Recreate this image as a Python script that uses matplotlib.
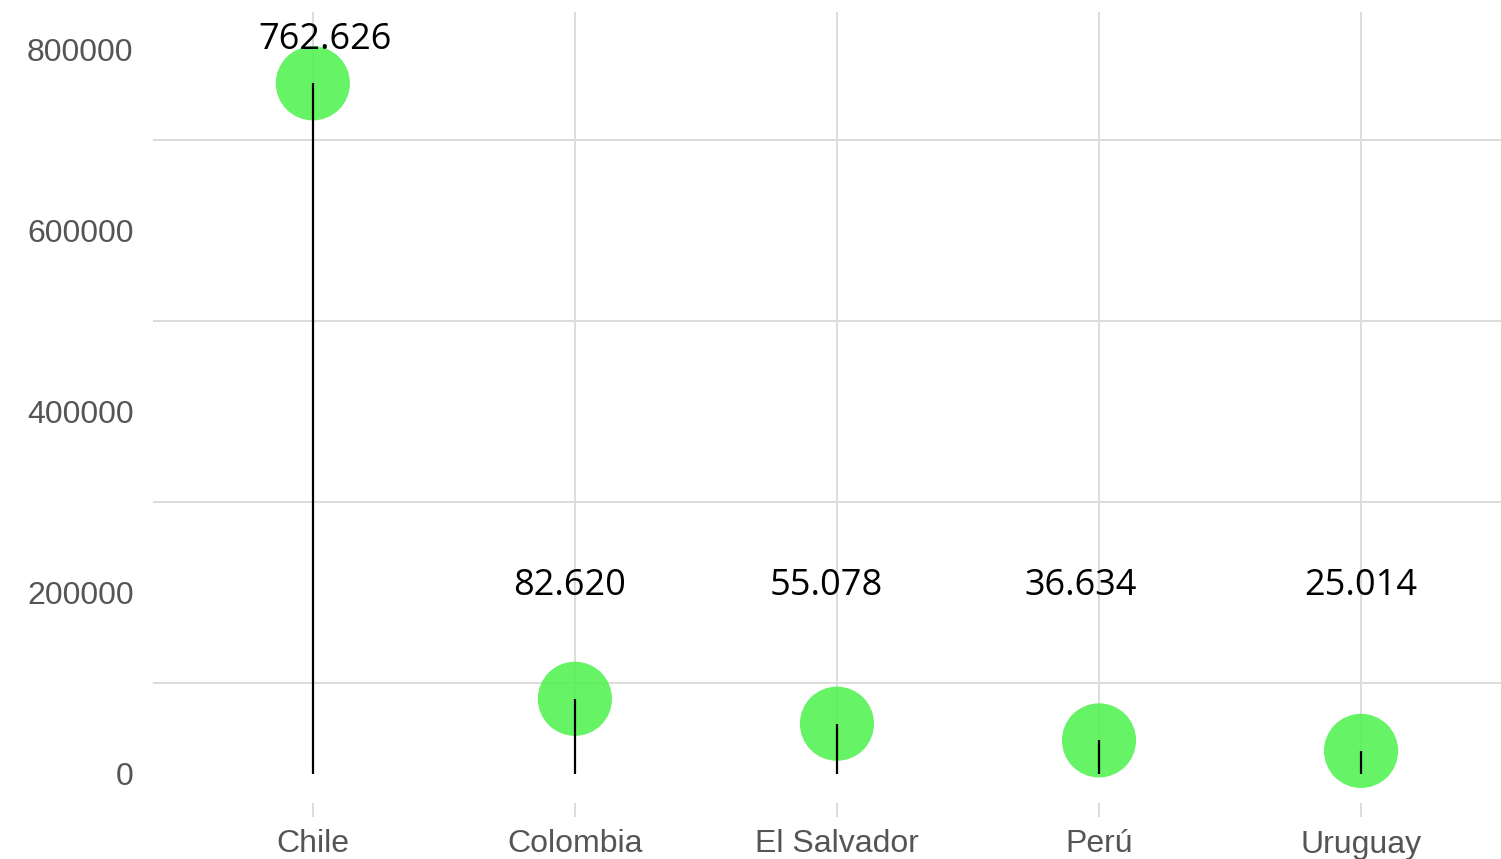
import matplotlib
matplotlib.use("Agg")
from matplotlib import pyplot as plt

countries = ["Chile", "Colombia", "El Salvador", "Perú", "Uruguay"]
values = [762626, 82620, 55078, 36634, 25014]
y_ticks = [0, 200000, 400000, 600000, 800000]
grid_lines = [100000, 300000, 500000, 700000]

GRID = "#dcdcdc"
TICK_TEXT = "#555555"
DOT = "#55f255"

Y_TOP = 841400
Y_BOT = -48000

fig = plt.figure(figsize=(15.01, 8.59), dpi=100)
# axes box in pixels: x 153..1501, y 12..817 (from top)
ax = fig.add_axes([153 / 1501, 1 - 817 / 859, (1501 - 153) / 1501, (817 - 12) / 859])

xs = list(range(len(countries)))
ax.set_xlim(-0.61, 4.534)
ax.set_ylim(Y_BOT, Y_TOP)

# grid
ax.hlines(grid_lines, -0.61, 4.534, color=GRID, lw=1.4, zorder=0)
ax.vlines(xs, 0, Y_TOP, color=GRID, lw=1.4, zorder=0)

# lollipops
ax.scatter(xs, values, s=2850, color=DOT, alpha=0.9, edgecolors="none", zorder=2)
ax.vlines(xs, 0, values, color="black", lw=1.6, zorder=3)

# value labels
label_dx = [0.046, -0.02, -0.04, -0.07, 0.0]
for i, v in enumerate(values):
    txt = f"{v:,}".replace(",", ".")
    y = 811000 if v > 400000 else 207500
    ax.text(i + label_dx[i], y, txt, ha="center", va="center",
            fontsize=26, family="Open Sans", color="black", zorder=4)

ax.set_xticks(xs)
ax.set_xticklabels(countries)
ax.set_yticks(y_ticks)
ax.set_yticklabels([str(t) for t in y_ticks])
ax.tick_params(axis="x", direction="in", length=10, width=1.4, color=GRID,
               pad=9, labelsize=23, labelcolor=TICK_TEXT)
ax.tick_params(axis="y", length=0, pad=14, labelsize=23, labelcolor=TICK_TEXT)
for lab in ax.get_xticklabels() + ax.get_yticklabels():
    lab.set_family("Liberation Sans")

for s in ax.spines.values():
    s.set_visible(False)

fig.savefig("out.png", dpi=100, facecolor="white")
